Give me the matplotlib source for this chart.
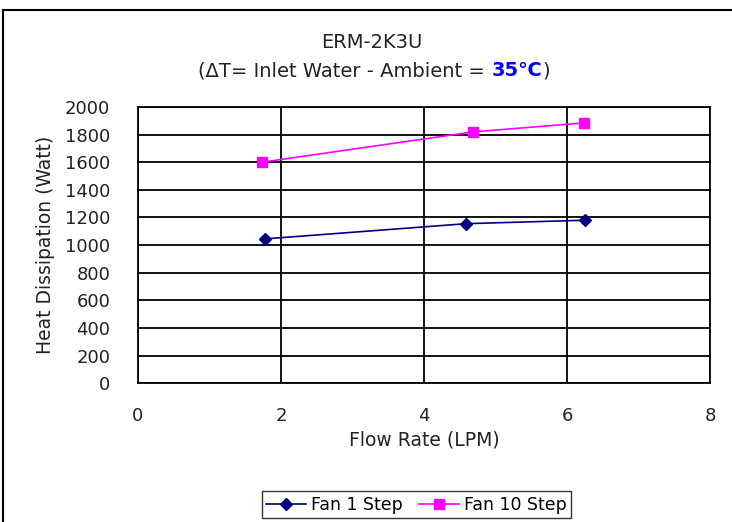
import numpy as np
import matplotlib.pyplot as plt
from matplotlib.lines import Line2D

# data
fan1_x = [1.78, 4.59, 6.25]
fan1_y = [1045, 1155, 1180]
fan10_x = [1.73, 4.69, 6.24]
fan10_y = [1600, 1820, 1885]

x_ticks = [0, 2, 4, 6, 8]
y_ticks = list(range(0, 2001, 200))

fig = plt.figure(figsize=(7.32, 5.22), dpi=100)
ax = fig.add_axes([0.1885, 0.266, 0.7815, 0.529])

ax.plot(fan1_x, fan1_y, color='#000080', lw=1.2, marker='D', ms=6,
        mfc='#000080', mec='#000080', label='Fan 1 Step', zorder=3)
ax.plot(fan10_x, fan10_y, color='#FF00FF', lw=1.2, marker='s', ms=7,
        mfc='#FF00FF', mec='#FF00FF', label='Fan 10 Step', zorder=3)

ax.set_xlim(0, 8)
ax.set_ylim(0, 2000)
ax.set_xticks(x_ticks)
ax.set_yticks(y_ticks)
ax.grid(True, color='black', lw=1.3)
for s in ax.spines.values():
    s.set_color('black')
    s.set_linewidth(1.3)
ax.tick_params(length=0, labelsize=13, colors='#222222')
ax.tick_params(axis='x', pad=17)
ax.tick_params(axis='y', pad=20)

ax.set_xlabel('Flow Rate (LPM)', fontsize=13.5, color='#222222', labelpad=4)
ax.set_ylabel('Heat Dissipation (Watt)', fontsize=13.5, color='#222222', labelpad=7)

# title
fig.text(0.508, 0.918, 'ERM-2K3U', ha='center', va='center', fontsize=14, color='#222222')
parts = [('(\u0394T= Inlet Water - Ambient = ', '#222222', 'normal'),
         ('35\u2103', '#0000FF', 'bold'),
         (')', '#222222', 'normal')]
texts = [fig.text(0, 0.864, p, ha='left', va='center', fontsize=14, color=c, fontweight=w)
         for p, c, w in parts]
fig.canvas.draw()
r = fig.canvas.get_renderer()
widths = [t.get_window_extent(r).width for t in texts]
x0 = 374 - sum(widths) / 2
for t, w in zip(texts, widths):
    t.set_x(x0 / 732)
    x0 += w

# outer border (cropped screenshot)
fig.add_artist(Line2D([2.5 / 732, 2.5 / 732], [0, 1 - 9.5 / 522], color='black', lw=1.5,
                      transform=fig.transFigure))
fig.add_artist(Line2D([2.5 / 732, 1], [1 - 9.5 / 522, 1 - 9.5 / 522], color='black', lw=1.5,
                      transform=fig.transFigure))

leg = fig.legend(loc='center', bbox_to_anchor=(0.569, 0.033), ncol=2, fontsize=12.5,
                 frameon=True, fancybox=False, edgecolor='black', handlelength=2.3,
                 columnspacing=0.9, handletextpad=0.3, borderpad=0.25)
leg.get_frame().set_linewidth(1.0)

fig.savefig('out.png', dpi=100)
